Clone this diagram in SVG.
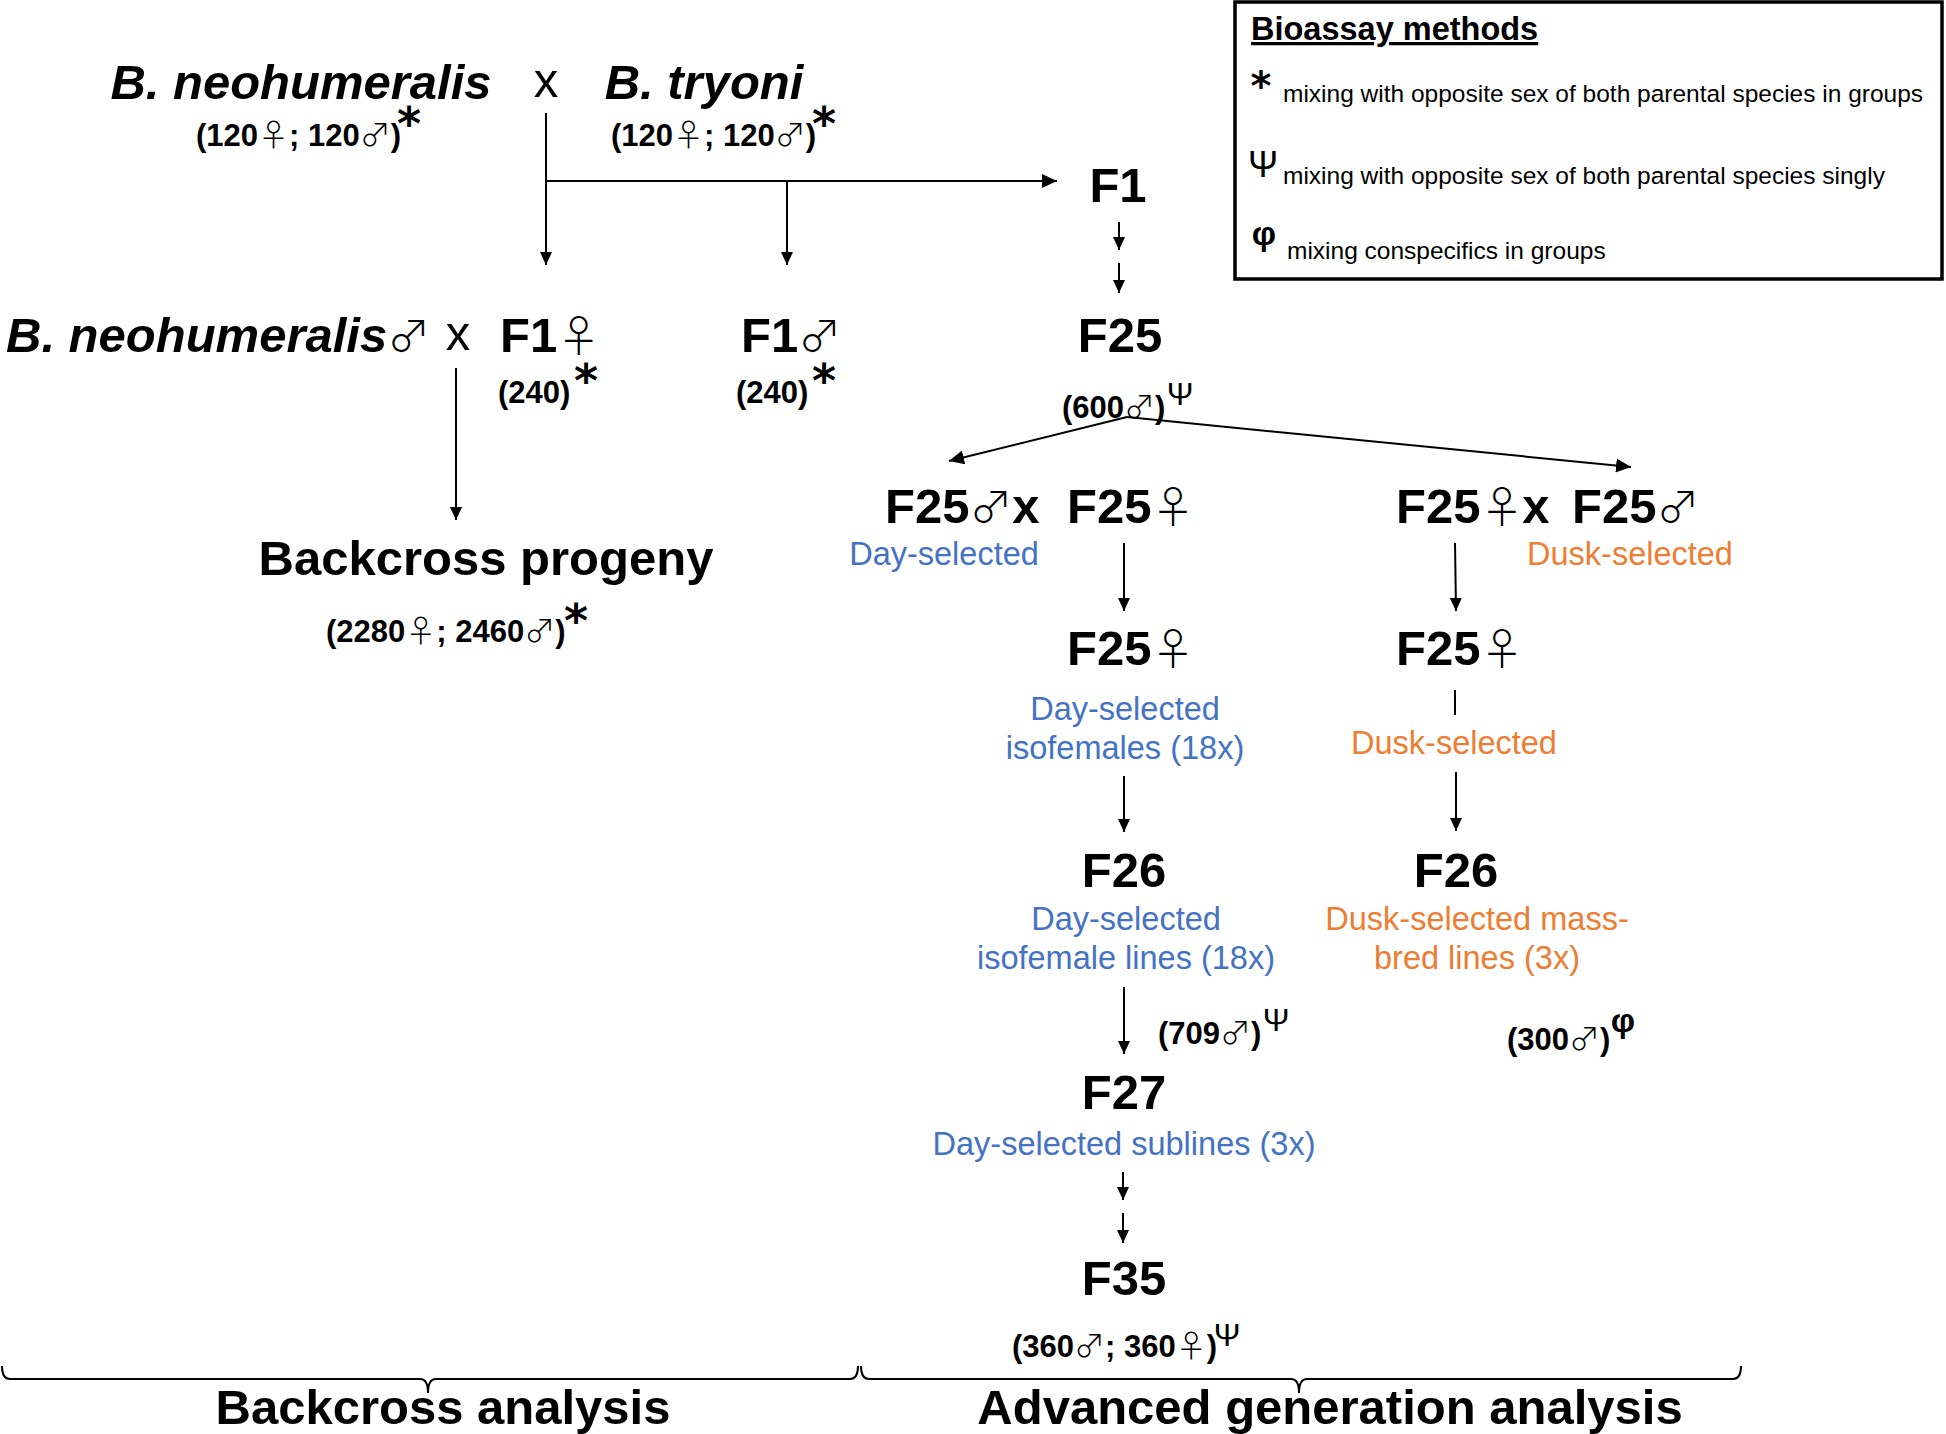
<svg xmlns="http://www.w3.org/2000/svg" width="1946" height="1434" viewBox="0 0 1946 1434">
<style>
text{font-family:"Liberation Sans",Arial,sans-serif;fill:#000}
.big{font-size:49px;font-weight:bold}
.bi{font-style:italic}
.num{font-size:31px;font-weight:bold}
.sym{font-family:"Noto Sans CJK JP","DejaVu Sans",sans-serif;font-weight:300;font-style:normal}
.bsym{font-size:43px}
.star{font-size:46px;font-weight:bold;font-family:"DejaVu Sans",sans-serif}
.psi{font-size:32px;font-weight:normal}
.phi{font-size:34px;font-weight:bold}
.thinx{font-size:49px;font-weight:normal}
.blue{font-size:32.5px;fill:#4472C4}
.orange{font-size:32.5px;fill:#ED7D31}
.leg{font-size:24.5px}
.conn line,.conn path{stroke:#000;stroke-width:2;fill:none}
</style>
<defs>
<marker id="ah" markerUnits="userSpaceOnUse" markerWidth="13" markerHeight="12" refX="13" refY="6" orient="auto"><path d="M0,0 L13,6 L0,12 z" fill="#000"/></marker>
<marker id="ahb" markerUnits="userSpaceOnUse" markerWidth="15" markerHeight="14" refX="15" refY="7" orient="auto"><path d="M0,0 L15,7 L0,14 z" fill="#000"/></marker>
</defs>

<g id="legend">
<rect x="1235" y="2" width="707" height="277" fill="none" stroke="#000" stroke-width="3.5"/>
<text x="1251" y="40" style="font-size:32.5px;font-weight:bold" text-decoration="underline">Bioassay methods</text>
<text x="1261" y="100" class="star" text-anchor="middle" style="font-size:40px">*</text>
<text x="1283" y="102" class="leg">mixing with opposite sex of both parental species in groups</text>
<text x="1263" y="177" class="psi" text-anchor="middle" style="font-size:36px">Ψ</text>
<text x="1283" y="184" class="leg">mixing with opposite sex of both parental species singly</text>
<text x="1264" y="245" class="phi" text-anchor="middle">φ</text>
<text x="1287" y="259" class="leg">mixing conspecifics in groups</text>
</g>

<g id="parent-neohumeralis">
<text x="301" y="99" class="big bi" text-anchor="middle">B. neohumeralis</text>
<text x="196" y="146" class="num">(120<tspan class="sym">♀</tspan>; 120<tspan class="sym">♂</tspan>)<tspan x="409" y="140" class="star" text-anchor="middle">*</tspan></text>
</g>
<g id="cross-x1"><text x="546" y="97" class="thinx" text-anchor="middle">x</text></g>
<g id="parent-tryoni">
<text x="704" y="99" class="big bi" text-anchor="middle">B. tryoni</text>
<text x="611" y="146" class="num">(120<tspan class="sym">♀</tspan>; 120<tspan class="sym">♂</tspan>)<tspan x="824" y="140" class="star" text-anchor="middle">*</tspan></text>
</g>

<g id="F1"><text x="1118" y="202" class="big" text-anchor="middle">F1</text></g>
<g id="F25">
<text x="1120" y="352" class="big" text-anchor="middle">F25</text>
<text x="1062" y="418" class="num">(600<tspan class="sym">♂</tspan>)<tspan x="1180" y="405" class="psi" text-anchor="middle">Ψ</tspan></text>
</g>

<g id="backcross-male">
<text x="6" y="352" class="big bi">B. neohumeralis<tspan class="sym bsym">♂</tspan></text>
</g>
<g id="cross-x2"><text x="458" y="350" class="thinx" text-anchor="middle">x</text></g>
<g id="F1-female">
<text x="500" y="352" class="big">F1<tspan class="sym bsym">♀</tspan></text>
<text x="498" y="403" class="num">(240)<tspan x="586" y="397" class="star" text-anchor="middle">*</tspan></text>
</g>
<g id="F1-male">
<text x="741" y="352" class="big">F1<tspan class="sym bsym">♂</tspan></text>
<text x="736" y="403" class="num">(240)<tspan x="824" y="397" class="star" text-anchor="middle">*</tspan></text>
</g>

<g id="backcross-progeny">
<text x="486" y="575" class="big" text-anchor="middle">Backcross progeny</text>
<text x="326" y="642" class="num">(2280<tspan class="sym">♀</tspan>; 2460<tspan class="sym">♂</tspan>)<tspan x="576" y="637" class="star" text-anchor="middle">*</tspan></text>
</g>

<g id="day-cross">
<text x="885" y="523" class="big">F25<tspan class="sym bsym">♂</tspan></text>
<text x="1026" y="523" class="big" text-anchor="middle">x</text>
<text x="1067" y="523" class="big">F25<tspan class="sym bsym">♀</tspan></text>
<text x="944" y="565" class="blue" text-anchor="middle">Day-selected</text>
</g>
<g id="dusk-cross">
<text x="1396" y="523" class="big">F25<tspan class="sym bsym">♀</tspan></text>
<text x="1536" y="523" class="big" text-anchor="middle">x</text>
<text x="1572" y="523" class="big">F25<tspan class="sym bsym">♂</tspan></text>
<text x="1630" y="565" class="orange" text-anchor="middle">Dusk-selected</text>
</g>

<g id="day-F25-female">
<text x="1067" y="665" class="big">F25<tspan class="sym bsym">♀</tspan></text>
<text x="1125" y="720" class="blue" text-anchor="middle">Day-selected</text>
<text x="1125" y="759" class="blue" text-anchor="middle">isofemales (18x)</text>
</g>
<g id="dusk-F25-female">
<text x="1396" y="665" class="big">F25<tspan class="sym bsym">♀</tspan></text>
<text x="1454" y="754" class="orange" text-anchor="middle">Dusk-selected</text>
</g>

<g id="day-F26">
<text x="1124" y="887" class="big" text-anchor="middle">F26</text>
<text x="1126" y="930" class="blue" text-anchor="middle">Day-selected</text>
<text x="1126" y="969" class="blue" text-anchor="middle">isofemale lines (18x)</text>
<text x="1158" y="1044" class="num">(709<tspan class="sym">♂</tspan>)<tspan x="1276" y="1031" class="psi" text-anchor="middle">Ψ</tspan></text>
</g>
<g id="dusk-F26">
<text x="1456" y="887" class="big" text-anchor="middle">F26</text>
<text x="1477" y="930" class="orange" text-anchor="middle">Dusk-selected mass-</text>
<text x="1477" y="969" class="orange" text-anchor="middle">bred lines (3x)</text>
<text x="1507" y="1050" class="num">(300<tspan class="sym">♂</tspan>)<tspan x="1623" y="1032" class="phi" text-anchor="middle">φ</tspan></text>
</g>

<g id="F27">
<text x="1124" y="1109" class="big" text-anchor="middle">F27</text>
<text x="1124" y="1155" class="blue" text-anchor="middle">Day-selected sublines (3x)</text>
</g>
<g id="F35">
<text x="1124" y="1295" class="big" text-anchor="middle">F35</text>
<text x="1012" y="1357" class="num">(360<tspan class="sym">♂</tspan>; 360<tspan class="sym">♀</tspan>)<tspan x="1227" y="1346" class="psi" text-anchor="middle">Ψ</tspan></text>
</g>

<g id="section-labels">
<text x="443" y="1424" class="big" text-anchor="middle">Backcross analysis</text>
<text x="1330" y="1424" class="big" text-anchor="middle">Advanced generation analysis</text>
</g>

<g id="connectors" class="conn">
<line x1="546" y1="113" x2="546" y2="265" marker-end="url(#ah)"/>
<line x1="546" y1="181" x2="1057" y2="181" marker-end="url(#ahb)"/>
<line x1="787" y1="181" x2="787" y2="265" marker-end="url(#ah)"/>
<line x1="1119" y1="222" x2="1119" y2="250" marker-end="url(#ah)"/>
<line x1="1119" y1="263" x2="1119" y2="293" marker-end="url(#ah)"/>
<line x1="456" y1="368" x2="456" y2="520" marker-end="url(#ah)"/>
<line x1="1127" y1="417" x2="949" y2="461" marker-end="url(#ahb)"/>
<line x1="1127" y1="417" x2="1631" y2="467" marker-end="url(#ahb)"/>
<line x1="1124" y1="543" x2="1124" y2="611" marker-end="url(#ah)"/>
<line x1="1455" y1="543" x2="1456" y2="611" marker-end="url(#ah)"/>
<line x1="1455" y1="690" x2="1455" y2="715"/>
<line x1="1124" y1="776" x2="1124" y2="832" marker-end="url(#ah)"/>
<line x1="1456" y1="772" x2="1456" y2="831" marker-end="url(#ah)"/>
<line x1="1124" y1="987" x2="1124" y2="1054" marker-end="url(#ah)"/>
<line x1="1123" y1="1172" x2="1123" y2="1200" marker-end="url(#ah)"/>
<line x1="1123" y1="1213" x2="1123" y2="1243" marker-end="url(#ah)"/>
<path d="M2,1366 Q2,1379 10,1379 L420,1379 Q428,1379 428,1393 Q428,1379 436,1379 L850,1379 Q858,1379 858,1366" stroke-width="1.5"/>
<path d="M861,1366 Q861,1379 869,1379 L1291,1379 Q1299,1379 1299,1393 Q1299,1379 1307,1379 L1733,1379 Q1741,1379 1741,1366" stroke-width="1.5"/>
</g>
</svg>
